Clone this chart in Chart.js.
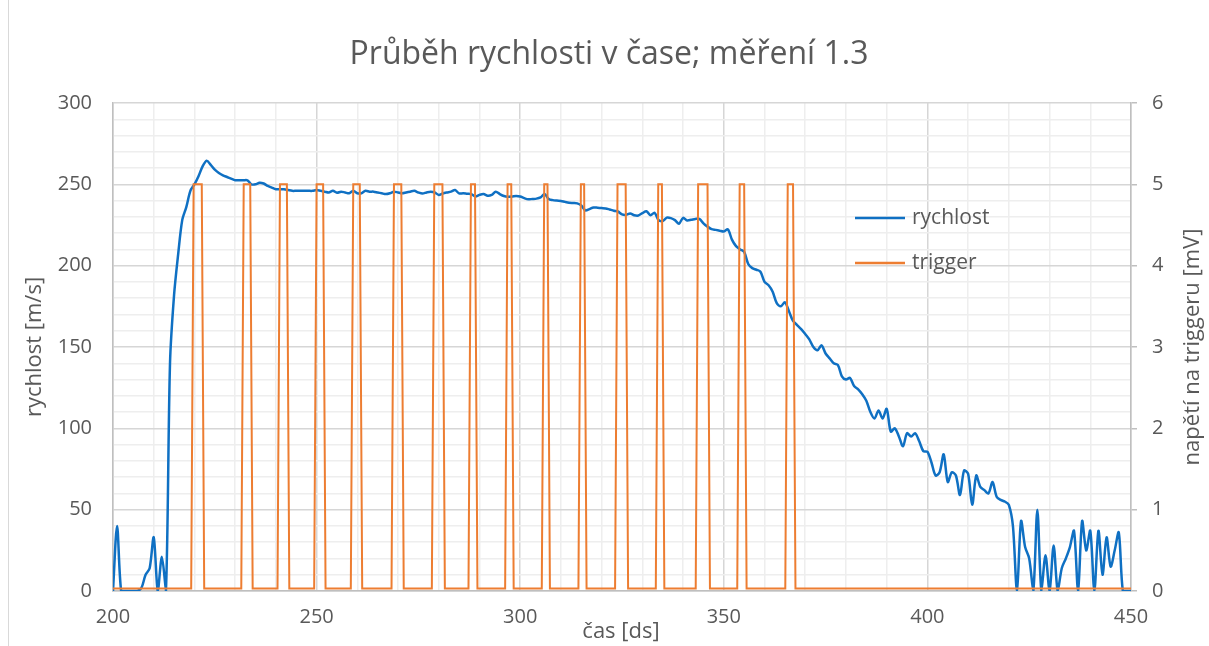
<!DOCTYPE html>
<html>
<head>
<meta charset="utf-8">
<script src="https://cdn.jsdelivr.net/npm/chart.js@4"></script>
<style>
  body { margin: 0; background: #fff; }
  #wrap { width: 1209px; height: 646px; position: relative; }
</style>
</head>
<body>
<div id="wrap"><canvas id="rychlostChart"></canvas></div>
<script>
// cas [ds] zacina na 200, krok 1 ds
var casStart = 200;
var rychlost = [
  0, 40, 0, 0, 0, 0, 0, 2, 10, 14,
  33, 0, 21, 0, 140, 182, 207, 228, 236, 246,
  250, 255, 261, 264.5, 262, 259, 257, 255.5, 254.5, 253.5,
  252.5, 252.5, 252.5, 252.5, 250, 250, 251, 250.5, 249, 248,
  247, 247, 247, 246.5, 246, 246, 246, 246, 246, 246,
  246.5, 246, 245.5, 245, 246, 244.8, 245.5, 245, 244.5, 246,
  244.5, 244.5, 246, 245.5, 245.5, 245, 244.5, 244, 244.5, 245.5,
  245, 244.5, 245, 245.5, 246, 245, 244.4, 245, 245.4, 245,
  243.5, 244.4, 245, 245.5, 246.5, 244.4, 244.5, 244.2, 244, 242.5,
  243.5, 244, 243, 243.5, 245.5, 244, 242.8, 242.4, 242.5, 242.8,
  242.5, 241.5, 240.8, 241, 241.2, 242, 244, 241, 240.3, 240,
  239.8, 239.2, 238.7, 238.5, 238.3, 237, 234, 234.8, 235.8, 235.6,
  235.4, 235.2, 234.5, 233.8, 233.3, 231.5, 231.2, 232.1, 231, 230.8,
  232.3, 233.5, 231, 232.5, 228, 227.5, 229.5, 229.2, 228, 225.8,
  229.4, 227.8, 228.2, 228.7, 228.8, 226, 224, 222.5, 222, 221.5,
  221, 222.3, 216, 212, 210, 208.5, 201, 198.5, 197.5, 196.3,
  190, 188, 184, 177, 175, 177.5, 172, 166, 163.5, 161,
  158, 154.7, 150, 148, 151, 146, 143, 140, 139, 132,
  130, 131, 126, 124, 121, 117, 110, 106, 111, 106,
  112, 98, 100, 95, 89, 97, 95, 97, 92, 86,
  85.6, 79, 71, 73, 84, 67, 73, 71, 59, 74,
  72, 53, 71, 64, 62, 60, 67, 58, 56, 55,
  53, 40, 0, 43, 27, 20, 0, 50, 0, 22,
  0, 28, 0, 14, 20, 27, 37, 0, 43, 25,
  37, 0, 37, 10, 33, 15, 25, 36, 0, 0,
  0
];

// trigger: horni hrana pulzu (zacatek, konec) [ds], uroven [mV], doba nabehu [ds]
var pulzStart = [219.8, 232.1, 241, 250, 259, 269, 278.9, 287.9, 296.9, 305.9, 314.9, 323.9, 333.9, 343.7, 353.9, 365.7];
var pulzKonec = [221.8, 233.7, 242.7, 251.6, 260.6, 270.8, 280.9, 288.9, 297.8, 306.7, 315.7, 325.9, 334.8, 346, 355, 367];
var triggerLow = 0.03;
var triggerHigh = 5;
var nabeh = 0.6;

var xTicks = [200, 250, 300, 350, 400, 450];
var yTicks = [0, 50, 100, 150, 200, 250, 300];
var y2Ticks = [0, 1, 2, 3, 4, 5, 6];

var rychlostPts = rychlost.map(function (v, i) { return { x: casStart + i, y: v }; });
var triggerPts = [{ x: 200, y: triggerLow }];
for (var i = 0; i < pulzStart.length; i++) {
  triggerPts.push({ x: pulzStart[i] - nabeh, y: triggerLow });
  triggerPts.push({ x: pulzStart[i], y: triggerHigh });
  triggerPts.push({ x: pulzKonec[i], y: triggerHigh });
  triggerPts.push({ x: pulzKonec[i] + nabeh, y: triggerLow });
}
triggerPts.push({ x: 450, y: triggerLow });

var FONT = "'Open Sans', 'DejaVu Sans', sans-serif";
var TEXT = '#595959';
var MAJOR = '#d6d6d6';
var MINOR = '#eeeeee';

function gridColor(ctx) {
  if (!ctx.tick) return MINOR;
  return ctx.tick.value % 50 === 0 ? MAJOR : MINOR;
}

// titulek, popisky os a legenda se kresli rucne
var textPlugin = {
  id: 'textPlugin',
  afterDraw: function (chart) {
    var c = chart.ctx;
    var a = chart.chartArea;
    c.save();
    c.fillStyle = TEXT;
    c.textAlign = 'center';
    c.textBaseline = 'middle';
    c.font = '32px ' + FONT;
    c.fillText('Průběh rychlosti v čase; měření 1.3', 609, 55);

    c.font = '22px ' + FONT;
    c.fillText('čas [ds]', 621, 632);

    c.save();
    c.translate(35, (a.top + a.bottom) / 2);
    c.rotate(-Math.PI / 2);
    c.fillText('rychlost [m/s]', 0, 0);
    c.restore();

    c.save();
    c.translate(1193, (a.top + a.bottom) / 2);
    c.rotate(-Math.PI / 2);
    c.fillText('napětí na triggeru [mV]', 0, 0);
    c.restore();

    // legenda
    var items = [chart.data.datasets[0], chart.data.datasets[1]];
    var ly = [218, 263];
    c.textAlign = 'left';
    c.font = '21px ' + FONT;
    items.forEach(function (ds, k) {
      c.strokeStyle = ds.borderColor;
      c.lineWidth = 2.5;
      c.beginPath();
      c.moveTo(855, ly[k]);
      c.lineTo(905, ly[k]);
      c.stroke();
      c.fillStyle = TEXT;
      c.fillText(ds.label, 912, ly[k]);
    });

    // okraj grafu
    c.strokeStyle = '#d9d9d9';
    c.lineWidth = 1;
    c.beginPath();
    c.moveTo(8.5, 0);
    c.lineTo(8.5, 646);
    c.stroke();
    c.restore();
  }
};

var ctx = document.getElementById('rychlostChart').getContext('2d');
var rychlostChart = new Chart(ctx, {
  type: 'line',
  data: {
    datasets: [{
      label: 'rychlost',
      data: rychlostPts,
      yAxisID: 'y',
      borderColor: '#0f70c3',
      borderWidth: 2.5,
      pointRadius: 0,
      tension: 0.3,
      fill: false,
      order: 2
    }, {
      label: 'trigger',
      data: triggerPts,
      yAxisID: 'y2',
      borderColor: '#ed7d31',
      borderWidth: 2,
      pointRadius: 0,
      tension: 0,
      fill: false,
      order: 1
    }]
  },
  options: {
    responsive: true,
    maintainAspectRatio: false,
    animation: false,
    layout: { padding: { top: 103, left: 0, right: 0, bottom: 0 } },
    plugins: {
      legend: { display: false },
      title: { display: false },
      tooltip: { enabled: false }
    },
    scales: {
      x: {
        type: 'linear',
        min: 200,
        max: 450,
        afterFit: function (s) { s.height = 55; },
        ticks: {
          stepSize: 10,
          autoSkip: false,
          maxRotation: 0,
          padding: 14,
          color: TEXT,
          font: { family: FONT, size: 20 },
          callback: function (v) { return xTicks.indexOf(v) >= 0 ? v : ''; }
        },
        grid: { color: gridColor, lineWidth: 1.5, drawTicks: false },
        border: { display: true, color: '#bfbfbf', width: 1.5 }
      },
      y: {
        position: 'left',
        min: 0,
        max: 300,
        afterFit: function (s) { s.width = 113; },
        ticks: {
          stepSize: 10,
          autoSkip: false,
          padding: 21,
          color: TEXT,
          font: { family: FONT, size: 20 },
          callback: function (v) { return yTicks.indexOf(v) >= 0 ? v : ''; }
        },
        grid: { color: gridColor, lineWidth: 1.5, drawTicks: false },
        border: { display: true, color: '#bfbfbf', width: 1.5 }
      },
      y2: {
        position: 'right',
        min: 0,
        max: 6,
        afterFit: function (s) { s.width = 78; },
        ticks: {
          stepSize: 1,
          padding: 15,
          color: TEXT,
          font: { family: FONT, size: 20 },
          callback: function (v) { return y2Ticks.indexOf(v) >= 0 ? v : ''; }
        },
        grid: { drawOnChartArea: false, drawTicks: true, tickLength: 6, color: '#bfbfbf', lineWidth: 1.5 },
        border: { display: true, color: '#bfbfbf', width: 1.5 }
      }
    }
  },
  plugins: [textPlugin]
});
</script>
</body>
</html>
